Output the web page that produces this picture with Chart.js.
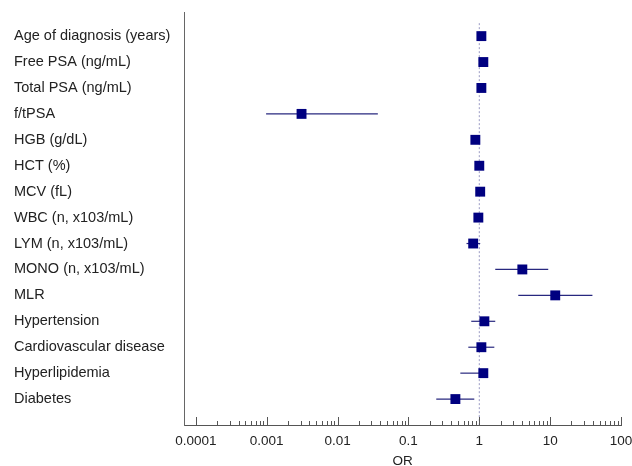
<!DOCTYPE html>
<html>
<head>
<meta charset="utf-8">
<title>Forest plot OR</title>
<script src="https://cdn.jsdelivr.net/npm/chart.js@4.4.1/dist/chart.umd.min.js"></script>
<style>
  html, body { margin: 0; padding: 0; background: #ffffff; }
  .chart-box { width: 632px; height: 466px; position: relative; }
</style>
</head>
<body>
<div class="chart-box"><canvas id="forest"></canvas></div>
<script>
const rowLabels = [
  "Age of diagnosis (years)",
  "Free PSA (ng/mL)",
  "Total PSA (ng/mL)",
  "f/tPSA",
  "HGB (g/dL)",
  "HCT (%)",
  "MCV (fL)",
  "WBC (n, x103/mL)",
  "LYM (n, x103/mL)",
  "MONO (n, x103/mL)",
  "MLR",
  "Hypertension",
  "Cardiovascular disease",
  "Hyperlipidemia",
  "Diabetes"
];
const orValues = [1.07, 1.14, 1.07, 0.0031, 0.88, 1.0, 1.03, 0.97, 0.82, 4.05, 11.8, 1.18, 1.07, 1.14, 0.46];
const ciLower  = [1.04, 1.09, 1.04, 0.00098, 0.84, 0.97, 1.0, 0.94, 0.66, 1.68, 3.55, 0.77, 0.70, 0.54, 0.247];
const ciUpper  = [1.10, 1.19, 1.10, 0.037, 0.93, 1.03, 1.06, 1.0, 1.03, 9.4, 39.5, 1.68, 1.63, 1.25, 0.85];

const xTickValues = [0.0001, 0.001, 0.01, 0.1, 1, 10, 100];
const xTickLabels = ["0.0001", "0.001", "0.01", "0.1", "1", "10", "100"];
const minorSteps = [2, 3, 4, 5, 6, 7, 8, 9];

Chart.defaults.font.family = "'Liberation Sans', Arial, sans-serif";
Chart.defaults.color = "#222";

// tick marks point up into the plot, long for decades, short for minors
const innerTicks = {
    id: "innerTicks",
    afterDraw(chart) {
        const scale = chart.scales.x;
        const ctx = chart.ctx;
        const base = scale.top;
        ctx.save();
        ctx.strokeStyle = "#555";
        ctx.lineWidth = 1;
        scale.ticks.forEach(t => {
            const px = Math.round(scale.getPixelForValue(t.value)) + 0.5;
            const len = xTickValues.includes(t.value) ? 8 : 4;
            ctx.beginPath();
            ctx.moveTo(px, base);
            ctx.lineTo(px, base - len);
            ctx.stroke();
        });
        ctx.restore();
    }
};

function createChart(chartId) {
    const canvas = document.getElementById(chartId);
    if (!canvas) return;

    const ciSets = rowLabels.map((label, i) => ({
        type: "line",
        data: [{ x: ciLower[i], y: i }, { x: ciUpper[i], y: i }],
        borderColor: "#28287f",
        borderWidth: 1.2,
        pointRadius: 0
    }));

    new Chart(canvas, {
        type: "scatter",
        data: {
            datasets: [
                {
                    label: "OR",
                    data: orValues.map((v, i) => ({ x: v, y: i })),
                    pointStyle: "rect",
                    pointRadius: 7,
                    borderWidth: 0,
                    backgroundColor: "#000080",
                    borderColor: "#000080"
                },
                ...ciSets,
                {
                    type: "line",
                    label: "ref",
                    data: [{ x: 1, y: -0.5 }, { x: 1, y: 15 }],
                    borderColor: "#9a9ac4",
                    borderWidth: 1,
                    borderDash: [2, 2],
                    pointRadius: 0
                }
            ]
        },
        options: {
            responsive: true,
            maintainAspectRatio: false,
            animation: false,
            layout: { padding: { left: 14, top: 12, right: 0, bottom: 0 } },
            plugins: {
                legend: { display: false },
                tooltip: { enabled: false }
            },
            scales: {
                x: {
                    type: "logarithmic",
                    min: 0.000068,
                    max: 100,
                    afterBuildTicks: scale => {
                        const ticks = [];
                        xTickValues.forEach(v => {
                            ticks.push({ value: v });
                            if (v < 100) minorSteps.forEach(m => ticks.push({ value: v * m }));
                        });
                        scale.ticks = ticks;
                    },
                    afterFit: scale => {
                        scale.height = 41;
                        scale.paddingRight = 11;
                    },
                    ticks: {
                        autoSkip: false,
                        maxRotation: 0,
                        padding: 8,
                        color: "#222",
                        font: { size: 13.5 },
                        callback: value => {
                            const k = xTickValues.indexOf(value);
                            return k >= 0 ? xTickLabels[k] : "";
                        }
                    },
                    grid: { drawOnChartArea: false, drawTicks: false },
                    border: { display: true, color: "#555", width: 1 },
                    title: {
                        display: true,
                        text: "OR",
                        color: "#222",
                        font: { size: 13.5 },
                        padding: { top: 0, bottom: -3 }
                    }
                },
                y: {
                    type: "linear",
                    reverse: true,
                    min: -0.93,
                    max: 15,
                    afterBuildTicks: scale => {
                        scale.ticks = rowLabels.map((l, i) => ({ value: i }));
                    },
                    afterFit: scale => {
                        scale.width = 170;
                    },
                    ticks: {
                        autoSkip: false,
                        crossAlign: "far",
                        color: "#222",
                        font: { size: 14.5 },
                        callback: value => rowLabels[value]
                    },
                    grid: { drawOnChartArea: false, drawTicks: false },
                    border: { display: true, color: "#666", width: 1 }
                }
            }
        },
        plugins: [innerTicks]
    });
}

createChart("forest");
</script>
</body>
</html>
